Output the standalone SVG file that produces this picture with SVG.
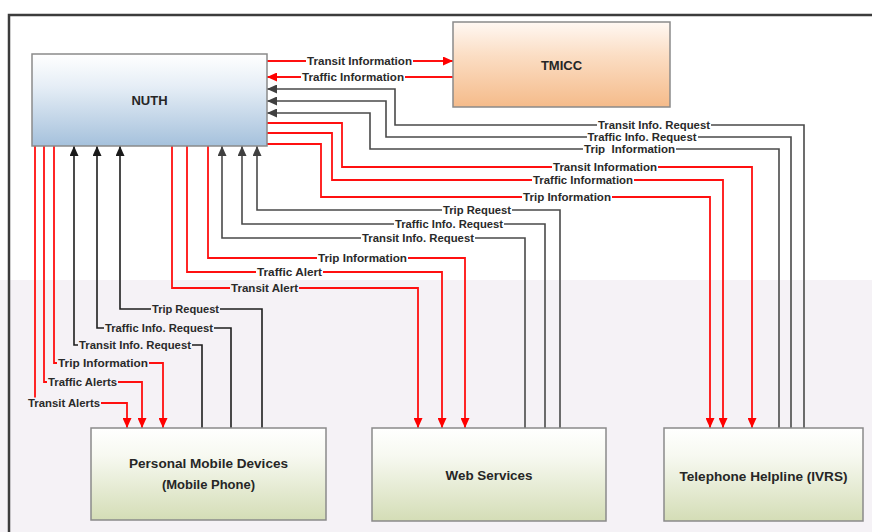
<svg xmlns="http://www.w3.org/2000/svg" width="872" height="532" viewBox="0 0 872 532">
  <defs>
    <linearGradient id="gBlue" x1="0" y1="0" x2="0" y2="1">
      <stop offset="0" stop-color="#ffffff"/>
      <stop offset="0.35" stop-color="#e6eef6"/>
      <stop offset="1" stop-color="#a5c1dc"/>
    </linearGradient>
    <linearGradient id="gPeach" x1="0" y1="0" x2="0" y2="1">
      <stop offset="0" stop-color="#fff8f3"/>
      <stop offset="0.4" stop-color="#fbddc3"/>
      <stop offset="1" stop-color="#f5bb8a"/>
    </linearGradient>
    <linearGradient id="gGreen" x1="0" y1="0" x2="0" y2="1">
      <stop offset="0" stop-color="#ffffff"/>
      <stop offset="0.3" stop-color="#f7f9f1"/>
      <stop offset="1" stop-color="#d4ddb6"/>
    </linearGradient>
    <marker id="arRed" markerUnits="userSpaceOnUse" markerWidth="10" markerHeight="9" refX="10" refY="4.5" orient="auto">
      <path d="M0,0 L10,4.5 L0,9 z" fill="#ff0000"/>
    </marker>
    <marker id="arGray" markerUnits="userSpaceOnUse" markerWidth="10" markerHeight="9" refX="10" refY="4.5" orient="auto">
      <path d="M0,0 L10,4.5 L0,9 z" fill="#404040"/>
    </marker>
    <marker id="arBlack" markerUnits="userSpaceOnUse" markerWidth="10" markerHeight="9" refX="10" refY="4.5" orient="auto">
      <path d="M0,0 L10,4.5 L0,9 z" fill="#1a1a1a"/>
    </marker>
  </defs>
  <style>
    .box { stroke: #8a8a8a; stroke-width: 1.5; }
    .title { font-family: "Liberation Sans", Arial, sans-serif; font-weight: bold; font-size: 13px; fill: #262626; text-anchor: middle; dominant-baseline: central; }
    .red { fill: none; stroke: #ff1010; stroke-width: 1.8; }
    .gray { fill: none; stroke: #4a4a4a; stroke-width: 1.6; }
    .black { fill: none; stroke: #1e1e1e; stroke-width: 1.6; }
    .lbl { font-family: "Liberation Sans", Arial, sans-serif; font-weight: bold; font-size: 10.5px; fill: #2a2a2a; text-anchor: middle; dominant-baseline: central; }
    .bgw { fill: #ffffff; }
    .bgl { fill: #f5f2f6; }
  </style>

  <!-- page background and frame -->
  <rect x="0" y="0" width="872" height="532" fill="#ffffff"/>
  <rect x="0" y="280" width="872" height="252" fill="#f5f2f6"/>
  <rect x="9" y="15" width="900" height="600" fill="none" stroke="#3c3c3c" stroke-width="2.5"/>

  <!-- connectors -->
  <g id="connectors">
    <!-- NUTH <-> TMICC -->
    <path class="red" d="M267,61 H453" marker-end="url(#arRed)"/>
    <path class="red" d="M453,77 H267" marker-end="url(#arRed)"/>

    <!-- Telephone Helpline <-> NUTH -->
    <path class="gray" d="M804,428 V125 H395 V89 H267" marker-end="url(#arGray)"/>
    <path class="gray" d="M791,428 V137 H386 V101 H267" marker-end="url(#arGray)"/>
    <path class="gray" d="M779,428 V149 H370 V113 H267" marker-end="url(#arGray)"/>
    <path class="red" d="M267,123 H342 V167 H752 V428" marker-end="url(#arRed)"/>
    <path class="red" d="M267,133 H332 V180 H723 V428" marker-end="url(#arRed)"/>
    <path class="red" d="M267,144 H321 V197 H710 V428" marker-end="url(#arRed)"/>

    <!-- Web Services <-> NUTH -->
    <path class="gray" d="M560,428 V210 H257 V146" marker-end="url(#arGray)"/>
    <path class="gray" d="M545,428 V224 H242 V146" marker-end="url(#arGray)"/>
    <path class="gray" d="M525,428 V238 H222 V146" marker-end="url(#arGray)"/>
    <path class="red" d="M208,146 V258 H465 V428" marker-end="url(#arRed)"/>
    <path class="red" d="M187,146 V272 H442 V428" marker-end="url(#arRed)"/>
    <path class="red" d="M172,146 V288 H418 V428" marker-end="url(#arRed)"/>

    <!-- Personal Mobile Devices <-> NUTH -->
    <path class="black" d="M262,428 V309 H120 V146" marker-end="url(#arBlack)"/>
    <path class="black" d="M231,428 V328 H97 V146" marker-end="url(#arBlack)"/>
    <path class="black" d="M202,428 V345 H74 V146" marker-end="url(#arBlack)"/>
    <path class="red" d="M54,146 V363 H163 V428" marker-end="url(#arRed)"/>
    <path class="red" d="M44,146 V382 H142 V428" marker-end="url(#arRed)"/>
    <path class="red" d="M35,146 V403 H127 V428" marker-end="url(#arRed)"/>

    <!-- connector labels -->
    <rect class="bgw" x="306" y="55" width="107" height="12"/>
    <text class="lbl" x="359.5" y="61" textLength="105" lengthAdjust="spacingAndGlyphs">Transit Information</text>
    <rect class="bgw" x="301" y="71" width="104" height="12"/>
    <text class="lbl" x="353" y="77" textLength="102" lengthAdjust="spacingAndGlyphs">Traffic Information</text>

    <rect class="bgw" x="597" y="119.5" width="114" height="11"/>
    <text class="lbl" x="654" y="125" textLength="112" lengthAdjust="spacingAndGlyphs">Transit Info. Request</text>
    <rect class="bgw" x="587" y="131.5" width="111" height="11"/>
    <text class="lbl" x="642" y="137" textLength="109" lengthAdjust="spacingAndGlyphs">Traffic Info. Request</text>
    <rect class="bgw" x="583" y="143.5" width="93" height="11"/>
    <text class="lbl" x="629.5" y="149" textLength="91" lengthAdjust="spacingAndGlyphs" xml:space="preserve">Trip  Information</text>
    <rect class="bgw" x="552" y="161.5" width="106" height="11"/>
    <text class="lbl" x="605" y="167" textLength="104" lengthAdjust="spacingAndGlyphs">Transit Information</text>
    <rect class="bgw" x="532" y="174.5" width="102" height="11"/>
    <text class="lbl" x="583" y="180" textLength="100" lengthAdjust="spacingAndGlyphs">Traffic Information</text>
    <rect class="bgw" x="522" y="191.5" width="90" height="11"/>
    <text class="lbl" x="567" y="197" textLength="88" lengthAdjust="spacingAndGlyphs">Trip Information</text>

    <rect class="bgw" x="442" y="204.5" width="70" height="11"/>
    <text class="lbl" x="477" y="210" textLength="68" lengthAdjust="spacingAndGlyphs">Trip Request</text>
    <rect class="bgw" x="394" y="218.5" width="110" height="11"/>
    <text class="lbl" x="449" y="224" textLength="108" lengthAdjust="spacingAndGlyphs">Traffic Info. Request</text>
    <rect class="bgw" x="361" y="232.5" width="114" height="11"/>
    <text class="lbl" x="418" y="238" textLength="112" lengthAdjust="spacingAndGlyphs">Transit Info. Request</text>
    <rect class="bgw" x="317" y="252.5" width="91" height="11"/>
    <text class="lbl" x="362.5" y="258" textLength="89" lengthAdjust="spacingAndGlyphs">Trip Information</text>
    <rect class="bgw" x="256" y="266.5" width="67" height="11"/>
    <text class="lbl" x="289.5" y="272" textLength="65" lengthAdjust="spacingAndGlyphs">Traffic Alert</text>
    <rect class="bgl" x="230" y="282.5" width="69" height="11"/>
    <text class="lbl" x="264.5" y="288" textLength="67" lengthAdjust="spacingAndGlyphs">Transit Alert</text>

    <rect class="bgl" x="151" y="303.5" width="69" height="11"/>
    <text class="lbl" x="185.5" y="309" textLength="67" lengthAdjust="spacingAndGlyphs">Trip Request</text>
    <rect class="bgl" x="104" y="322.5" width="110" height="11"/>
    <text class="lbl" x="159" y="328" textLength="108" lengthAdjust="spacingAndGlyphs">Traffic Info. Request</text>
    <rect class="bgl" x="78" y="339.5" width="114" height="11"/>
    <text class="lbl" x="135" y="345" textLength="112" lengthAdjust="spacingAndGlyphs">Transit Info. Request</text>
    <rect class="bgl" x="57" y="357.5" width="92" height="11"/>
    <text class="lbl" x="103" y="363" textLength="90" lengthAdjust="spacingAndGlyphs">Trip Information</text>
    <rect class="bgl" x="47" y="376.5" width="71" height="11"/>
    <text class="lbl" x="82.5" y="382" textLength="69" lengthAdjust="spacingAndGlyphs">Traffic Alerts</text>
    <rect class="bgl" x="27" y="397.5" width="74" height="11"/>
    <text class="lbl" x="64" y="403" textLength="72" lengthAdjust="spacingAndGlyphs">Transit Alerts</text>
  </g>

  <!-- nodes -->
  <g id="nuth">
    <rect class="box" x="32" y="54" width="235" height="92" fill="url(#gBlue)"/>
    <text class="title" x="149.5" y="100">NUTH</text>
  </g>
  <g id="tmicc">
    <rect class="box" x="453" y="22" width="217" height="85" fill="url(#gPeach)"/>
    <text class="title" x="561.5" y="65">TMICC</text>
  </g>
  <g id="mobile">
    <rect class="box" x="91" y="428" width="235" height="92" fill="url(#gGreen)"/>
    <text class="title" x="208.5" y="463" textLength="159" lengthAdjust="spacingAndGlyphs">Personal Mobile Devices</text>
    <text class="title" x="208.5" y="484">(Mobile Phone)</text>
  </g>
  <g id="web">
    <rect class="box" x="372" y="428" width="234" height="93" fill="url(#gGreen)"/>
    <text class="title" x="489" y="475" textLength="87" lengthAdjust="spacingAndGlyphs">Web Services</text>
  </g>
  <g id="ivrs">
    <rect class="box" x="664" y="428" width="199" height="93" fill="url(#gGreen)"/>
    <text class="title" x="763.5" y="476" textLength="168" lengthAdjust="spacingAndGlyphs">Telephone Helpline (IVRS)</text>
  </g>
</svg>
